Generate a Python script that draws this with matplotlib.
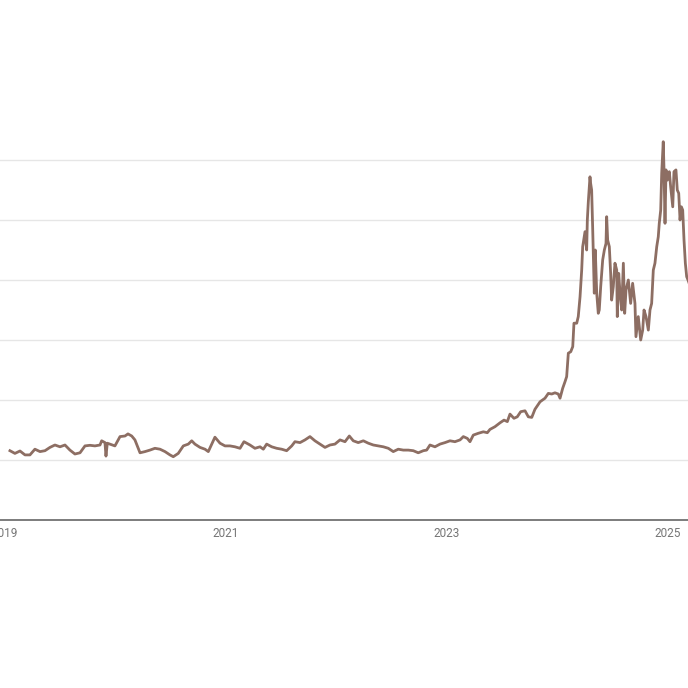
import matplotlib
matplotlib.use('Agg')
import matplotlib.pyplot as plt

# decimal years and values (one gridline = 20)
years = [
    2019.045, 2019.090, 2019.136, 2019.181, 2019.226, 2019.271, 2019.317, 2019.362,
    2019.407, 2019.452, 2019.498, 2019.543, 2019.588, 2019.633, 2019.679, 2019.724,
    2019.769, 2019.814, 2019.860, 2019.875, 2019.905, 2019.914, 2019.926, 2019.950,
    2019.995, 2020.041, 2020.086, 2020.113, 2020.147, 2020.176, 2020.222, 2020.267,
    2020.312, 2020.357, 2020.403, 2020.448, 2020.493, 2020.523, 2020.568, 2020.614,
    2020.659, 2020.690, 2020.719, 2020.765, 2020.810, 2020.840, 2020.900, 2020.946,
    2020.991, 2021.036, 2021.081, 2021.127, 2021.163, 2021.217, 2021.262, 2021.308,
    2021.338, 2021.368, 2021.414, 2021.459, 2021.504, 2021.549, 2021.595, 2021.624,
    2021.670, 2021.715, 2021.760, 2021.805, 2021.851, 2021.896, 2021.941, 2021.986,
    2022.032, 2022.077, 2022.116, 2022.152, 2022.197, 2022.243, 2022.288, 2022.333,
    2022.378, 2022.424, 2022.469, 2022.514, 2022.559, 2022.605, 2022.650, 2022.695,
    2022.740, 2022.786, 2022.816, 2022.846, 2022.891, 2022.937, 2022.982, 2023.027,
    2023.072, 2023.118, 2023.148, 2023.184, 2023.208, 2023.238, 2023.283, 2023.329,
    2023.365, 2023.389, 2023.434, 2023.480, 2023.516, 2023.546, 2023.570, 2023.606,
    2023.636, 2023.667, 2023.706, 2023.736, 2023.767, 2023.796, 2023.842, 2023.887,
    2023.917, 2023.948, 2023.977, 2024.007, 2024.023, 2024.047, 2024.068, 2024.083,
    2024.098, 2024.120, 2024.138, 2024.149, 2024.174, 2024.188, 2024.204, 2024.219,
    2024.228, 2024.249, 2024.264, 2024.270, 2024.279, 2024.294, 2024.300, 2024.309,
    2024.318, 2024.333, 2024.342, 2024.355, 2024.369, 2024.378, 2024.391, 2024.409,
    2024.424, 2024.439, 2024.445, 2024.454, 2024.469, 2024.481, 2024.490, 2024.505,
    2024.520, 2024.536, 2024.541, 2024.554, 2024.566, 2024.581, 2024.596, 2024.608,
    2024.620, 2024.641, 2024.662, 2024.680, 2024.701, 2024.710, 2024.731, 2024.753,
    2024.771, 2024.783, 2024.801, 2024.822, 2024.837, 2024.852, 2024.867, 2024.882,
    2024.898, 2024.912, 2024.921, 2024.934, 2024.943, 2024.957, 2024.964, 2024.973,
    2024.982, 2024.994, 2025.012, 2025.024, 2025.043, 2025.054, 2025.072, 2025.084,
    2025.097, 2025.109, 2025.121, 2025.133, 2025.145, 2025.157, 2025.169, 2025.181,
    2025.200,
]
values = [
    23.1, 22.2, 23.0, 21.7, 21.7, 23.6, 22.8, 23.1,
    24.2, 25.0, 24.4, 25.0, 23.3, 22.0, 22.4, 24.7,
    24.9, 24.7, 25.0, 26.4, 25.8, 21.3, 25.6, 25.3,
    24.7, 27.8, 28.0, 28.7, 28.0, 26.7, 22.4, 22.8,
    23.3, 23.9, 23.6, 22.8, 21.7, 21.1, 22.2, 24.7,
    25.3, 26.4, 25.3, 24.2, 23.6, 22.8, 27.6, 25.6,
    24.7, 24.7, 24.4, 23.9, 26.1, 25.0, 23.9, 24.4,
    23.6, 25.3, 24.4, 23.9, 23.6, 23.1, 24.7, 26.1,
    25.8, 26.7, 27.8, 26.4, 25.3, 24.2, 25.0, 25.3,
    26.7, 26.1, 28.0, 26.4, 25.8, 26.4, 25.6, 25.0,
    24.7, 24.4, 23.9, 22.8, 23.6, 23.3, 23.3, 23.1,
    22.4, 23.1, 23.3, 25.0, 24.4, 25.3, 25.8, 26.4,
    26.1, 26.7, 27.8, 27.2, 26.1, 28.3, 28.9, 29.4,
    29.1, 30.2, 31.1, 32.4, 33.3, 32.8, 35.3, 33.9,
    34.4, 36.1, 36.4, 34.4, 34.2, 36.9, 39.4, 40.6,
    42.2, 42.0, 42.4, 42.0, 40.6, 43.9, 46.1, 47.8,
    55.6, 56.1, 57.8, 65.6, 65.6, 67.8, 74.4, 83.3,
    91.1, 96.1, 90.0, 100.0, 106.1, 114.4, 112.2, 110.0,
    97.8, 75.6, 90.0, 75.6, 68.9, 70.0, 77.8, 86.7,
    90.0, 92.2, 101.1, 93.3, 91.1, 82.2, 73.3, 77.8,
    85.6, 83.3, 67.8, 82.2, 75.6, 70.0, 85.6, 68.9,
    76.7, 80.0, 72.2, 78.9, 72.2, 61.1, 67.8, 60.0,
    63.3, 70.0, 67.8, 63.3, 70.0, 72.2, 83.3, 85.6,
    91.1, 94.4, 98.9, 103.3, 115.6, 126.1, 116.7, 98.9,
    116.7, 113.3, 116.1, 111.1, 104.4, 116.1, 116.7, 110.0,
    108.9, 100.0, 104.4, 103.3, 93.3, 85.6, 81.1, 80.0,
    78.0,
]

xticks = [2019, 2021, 2023, 2025]
xtick_labels = ['2019', '2021', '2023', '2025']
ygrid = [20, 40, 60, 80, 100, 120]

plt.rcParams['font.family'] = ['Roboto', 'DejaVu Sans']

fig = plt.figure(figsize=(6.88, 6.88), dpi=100)
ax = fig.add_axes([0.0, 168 / 688, 1.0, 390 / 688])

ax.plot(years, values, color='#8d6e63', linewidth=2.0, solid_joinstyle='round', zorder=3)

ax.set_xlim(2018.955, 2025.181)
ax.set_ylim(0, 130)
ax.set_xticks(xticks)
ax.set_xticklabels(xtick_labels, fontsize=8.5, color='#757575')
ax.set_yticks(ygrid)
ax.set_yticklabels([])
ax.tick_params(axis='both', length=0)
ax.tick_params(axis='x', pad=5)
ax.grid(axis='y', color='#e6e6e6', linewidth=1)
ax.set_axisbelow(True)

for side in ['top', 'left', 'right']:
    ax.spines[side].set_visible(False)
ax.spines['bottom'].set_color('#666666')
ax.spines['bottom'].set_linewidth(1.2)

fig.savefig('out.png', dpi=100)
